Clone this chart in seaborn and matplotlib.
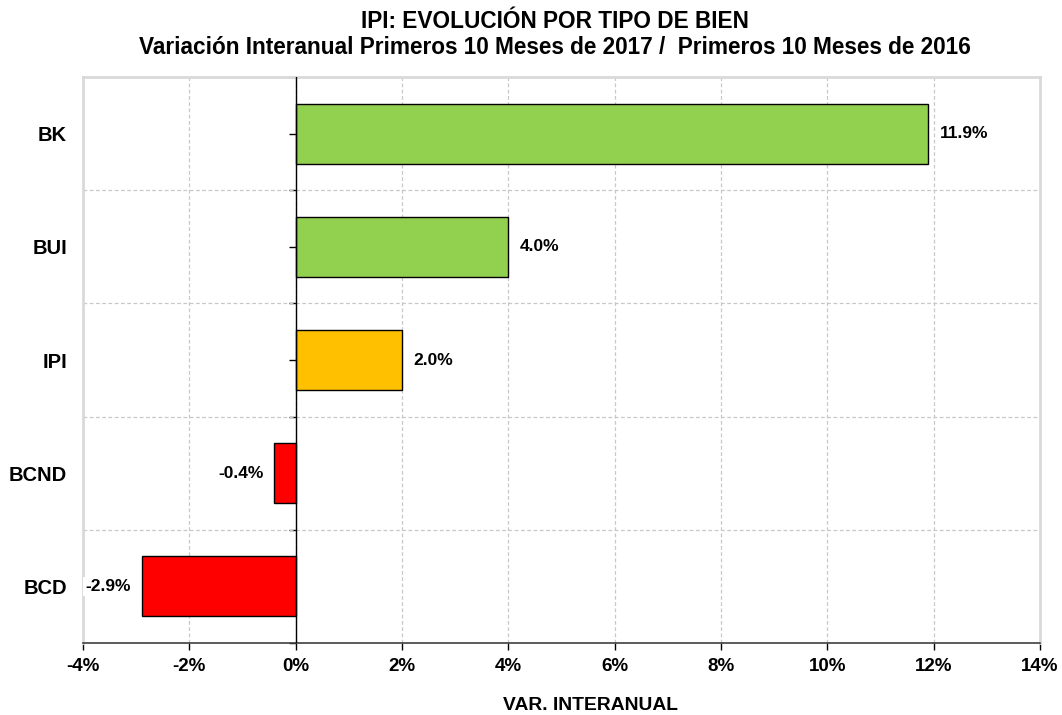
import numpy as np
import pandas as pd
import matplotlib
matplotlib.use('Agg')
import matplotlib.pyplot as plt
import seaborn as sns

# ── data ────────────────────────────────────────────────
categorias = ["BK", "BUI", "IPI", "BCND", "BCD"]
variacion = [11.9, 4.0, 2.0, -0.4, -2.9]
colores = ["#92D050", "#92D050", "#FFC000", "#FF0000", "#FF0000"]
x_ticks = [-4, -2, 0, 2, 4, 6, 8, 10, 12, 14]

df = pd.DataFrame({"cat": categorias, "var": variacion})

sns.set_theme(style="white")
plt.rcParams['font.family'] = ['Liberation Sans', 'DejaVu Sans']
plt.rcParams['text.color'] = 'black'
plt.rcParams['xtick.color'] = 'black'
plt.rcParams['ytick.color'] = 'black'
plt.rcParams['axes.labelcolor'] = 'black'

fig = plt.figure(figsize=(10.62, 7.15), dpi=100)
ax = fig.add_axes([0.0782, 0.1007, 0.9011, 0.7916])

sns.barplot(data=df, y="cat", x="var", hue="cat", palette=colores,
            saturation=1, orient="h", width=0.53, edgecolor="black",
            linewidth=1, legend=False, ax=ax, zorder=3)

ax.set_xlim(-4, 14)
ax.set_ylim(len(categorias) - 0.5, -0.5)
ax.set_xticks(x_ticks)
ax.set_xticklabels([f"{t}%" for t in x_ticks], fontsize=13.5, fontweight="bold")
ax.set_yticks(range(len(categorias)))
ax.set_yticklabels(categorias, fontsize=14.5, fontweight="bold")
ax.tick_params(axis="y", length=0, pad=11.5)
ax.tick_params(axis="x", length=5, width=1, color="black", direction="out",
               bottom=True, pad=6)

# grid
for t in x_ticks[1:-1]:
    ax.axvline(t, color="#c8c8c8", lw=0.9, ls=(0, (3, 2)), zorder=1)
for b in np.arange(0.5, len(categorias) - 0.5, 1):
    ax.axhline(b, color="#c8c8c8", lw=0.9, ls=(0, (3, 2)), zorder=1)

# frame
for s in ["left", "top", "right"]:
    ax.spines[s].set_color("#d9d9d9")
    ax.spines[s].set_linewidth(2)
ax.spines["bottom"].set_color("#404040")
ax.spines["bottom"].set_linewidth(1.2)

# category axis at 0%
ax.axvline(0, color="black", lw=1, zorder=4)
sec = ax.secondary_yaxis(4 / 18)
sec.set_yticks(np.arange(-0.5, len(categorias), 0.5))
sec.set_yticklabels([])
sec.tick_params(length=5, width=1, color="black")
sec.spines["left"].set_visible(False)

# value labels
for i, v in enumerate(variacion):
    if v >= 0:
        ax.annotate(f"{v:.1f}%", (v, i), xytext=(8, 0), textcoords="offset points",
                    ha="left", va="center", fontsize=12.5, fontweight="bold")
    else:
        ax.annotate(f"{v:.1f}%", (v, i), xytext=(-8, 0), textcoords="offset points",
                    ha="right", va="center", fontsize=12.5, fontweight="bold",
                    bbox=dict(boxstyle="square,pad=0.1", fc="white", ec="none"),
                    zorder=5)

ax.set_ylabel("")
ax.set_xlabel("VAR. INTERANUAL", fontsize=13.9, fontweight="bold")
ax.xaxis.set_label_coords(0.53, -0.096)

fig.text(0.523, 0.970, "IPI: EVOLUCIÓN POR TIPO DE BIEN", ha="center", va="center",
         fontsize=16.3, fontweight="bold")
fig.text(0.523, 0.933, "Variación Interanual Primeros 10 Meses de 2017 /  Primeros 10 Meses de 2016",
         ha="center", va="center", fontsize=16.3, fontweight="bold")

plt.savefig("out.png", dpi=100)
plt.close()
